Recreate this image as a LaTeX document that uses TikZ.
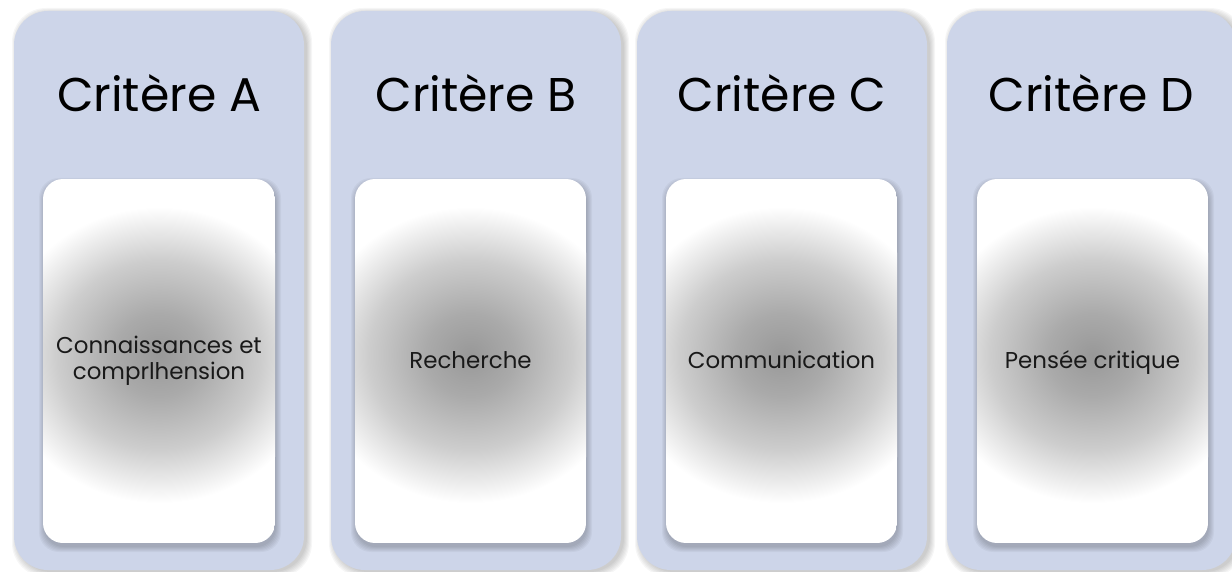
\documentclass[tikz,border=0pt]{standalone}
\usepackage{fontspec}
\setmainfont{Poppins}
\usetikzlibrary{calc}
\definecolor{panelc}{RGB}{205,213,233}
\definecolor{g0}{RGB}{152,152,152}
\definecolor{g1}{RGB}{170,170,170}
\definecolor{g2}{RGB}{205,205,205}
\definecolor{g3}{RGB}{238,238,238}
\definecolor{txtc}{RGB}{25,25,25}
\pgfdeclareradialshading{blob}{\pgfpoint{0bp}{0bp}}{color(0bp)=(g0); color(7bp)=(g1); color(16bp)=(g2); color(22bp)=(g3); color(25bp)=(white); color(50bp)=(white)}
\newcommand\softshadow[7]{%
  \foreach \k in {0,...,5}{%
    \fill[black,opacity=0.035,rounded corners=#5] (#1+#6-\k,#2+#7-\k) rectangle (#3+#6+\k,#4+#7+\k);}}
\tikzset{
  panel/.style={fill=panelc,rounded corners=34bp},
  inner/.style={fill=white,rounded corners=20bp},
  title/.style={font=\fontsize{47.5}{56}\selectfont,anchor=base,text=black,inner sep=0pt},
  label/.style={font=\fontsize{23}{26}\selectfont,align=center,text=txtc,inner sep=0pt},
}
\begin{document}
\begin{tikzpicture}[x=1bp,y=-1bp]
\useasboundingbox (0,0) rectangle (1232,572);
\foreach \pl/\pr/\il/\ir/\tt/\lab/\nm/\an/\ly in {
  14/304/43/275/{Critère A}/{Connaissances et\\comprlhension}/a/center/361,
  331/621/355/586/{Critère B}/{Recherche}/b/base/369,
  637/927/666/897/{Critère C}/{Communication}/c/base/369,
  947/1236/977/1208/{Critère D}/{Pensée critique}/d/base/369}{
  \softshadow{\pl}{11}{\pr}{570}{34bp}{3}{2}
  \fill[panel] (\pl,11) rectangle (\pr,570);
  \softshadow{\il}{179}{\ir}{543}{20bp}{1}{4}
  \begin{scope}
    \clip[rounded corners=20bp] (\il,179) rectangle (\ir,543);
    \fill[white] (\il,179) rectangle (\ir,543);
    \shade[shading=blob] ({(\il+\ir)/2},355) ellipse [x radius=160bp, y radius=148bp];
  \end{scope}
  \node[title] (t\nm) at ({(\pl+\pr)/2},112) {\tt};
  \node[label,anchor=\an] (l\nm) at ({(\il+\ir)/2},\ly) {\lab};
}
\end{tikzpicture}
\end{document}
